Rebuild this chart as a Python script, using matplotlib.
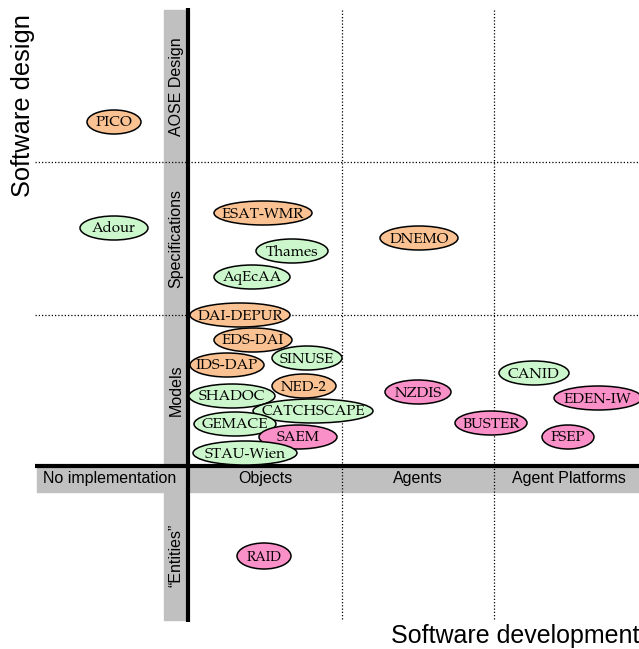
import matplotlib.pyplot as plt
from matplotlib.patches import Ellipse, Rectangle

# systems: name, centre x, centre y, width (diagram units ~ pixels), group
names = ["PICO", "Adour", "ESAT-WMR", "Thames", "AqEcAA", "DNEMO",
         "DAI-DEPUR", "EDS-DAI", "SINUSE", "IDS-DAP", "NED-2", "SHADOC",
         "CATCHSCAPE", "GEMACE", "SAEM", "STAU-Wien", "NZDIS", "CANID",
         "EDEN-IW", "BUSTER", "FSEP", "RAID"]
xs = [114, 114, 263, 292, 252, 419, 240, 253, 307, 227, 304, 232,
      313, 235, 298, 245, 418, 534, 598, 491, 568, 264]
ys = [122, 228, 213, 251, 277, 238, 315, 340, 358, 365, 386, 396,
      411, 424, 437, 453, 392, 373, 398, 423, 437, 556]
widths = [54, 68, 98, 72, 76, 78, 100, 78, 70, 74, 64, 86,
          120, 82, 78, 104, 66, 70, 88, 72, 52, 54]
groups = ["o", "g", "o", "g", "g", "o", "o", "o", "g", "o", "o", "g",
          "g", "g", "p", "g", "p", "g", "p", "p", "p", "p"]
colors = {"o": "#fac292", "g": "#ccf7cc", "p": "#fa90c8"}

# axis categories
dev_labels = ["No implementation", "Objects", "Agents", "Agent Platforms"]
dev_centres = [110, 265, 418, 569]
design_labels = ["AOSE Design", "Specifications", "Models", "\u201cEntities\u201d"]
design_centres = [87, 238, 390, 555]

serif = ["TeX Gyre Pagella", "Liberation Serif"]
sans = "Liberation Sans"

fig = plt.figure(figsize=(6.39, 6.49), dpi=100)
ax = fig.add_axes([0, 0, 1, 1])
ax.set_xlim(0, 639)
ax.set_ylim(649, 0)
ax.axis("off")

grey = "#c0c0c0"
ax.add_patch(Rectangle((164, 10), 24, 610, color=grey, zorder=1))
ax.add_patch(Rectangle((37, 467), 602, 25, color=grey, zorder=1))

for y in [162, 315]:
    ax.plot([35, 639], [y, y], color="black", lw=0.9, ls=(0, (1, 1.6)), zorder=2)
for x in [342, 494]:
    ax.plot([x, x], [10, 620], color="black", lw=0.9, ls=(0, (1, 1.6)), zorder=2)

ax.plot([188, 188], [8, 622], color="black", lw=3, solid_capstyle="butt", zorder=3)
ax.plot([35, 639], [466, 466], color="black", lw=3, solid_capstyle="butt", zorder=3)

for lab, cx in zip(dev_labels, dev_centres):
    ax.text(cx, 479, lab, ha="center", va="center", fontsize=11.5,
            family=sans, zorder=4)
for lab, cy in zip(design_labels, design_centres):
    ax.text(176, cy, lab, ha="center", va="center", rotation=90, fontsize=11.5,
            family=sans, zorder=4)

ax.text(23, 106, "Software design", rotation=90, ha="center", va="center",
        fontsize=18.3, family=sans)
ax.text(639, 636, "Software development", ha="right", va="center",
        fontsize=18, family=sans)

for n, x, y, w, g in zip(names, xs, ys, widths, groups):
    h = 26 if n == "RAID" else 24
    ax.add_patch(Ellipse((x, y), w, h, facecolor=colors[g], edgecolor="black",
                         lw=1.1, zorder=5))
    ax.text(x, y + 1, n, ha="center", va="center", fontsize=10.8 if n != "RAID" else 9.8,
            family=serif, zorder=6)

fig.savefig("out.png", dpi=100)
